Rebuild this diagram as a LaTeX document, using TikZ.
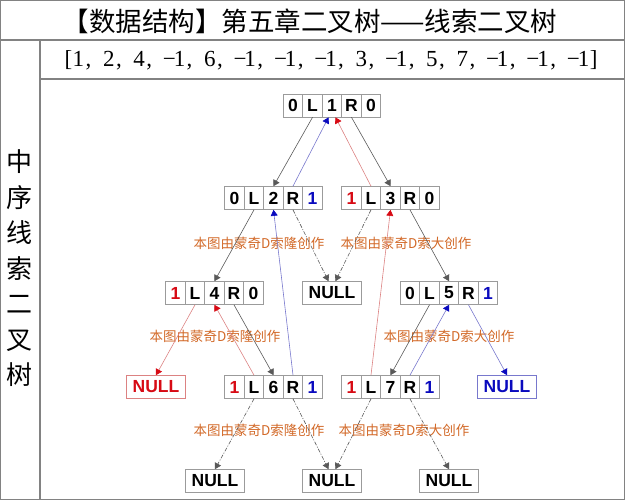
\documentclass[tikz,border=0pt]{standalone}
\usepackage{fontspec}
\setmainfont{Liberation Serif}
\setsansfont{Liberation Sans}
\newfontfamily\cjk{Noto Sans CJK SC}
\usetikzlibrary{arrows.meta}
\definecolor{tred}{RGB}{215,10,20}
\definecolor{tblue}{RGB}{10,10,190}
\definecolor{lred}{RGB}{220,130,130}
\definecolor{lblue}{RGB}{120,120,205}
\definecolor{wm}{RGB}{210,105,40}
\definecolor{frame}{RGB}{130,130,130}
\tikzset{
  cell/.style={draw=frame!80, line width=0.7pt, minimum width=19.5pt, minimum height=23pt, inner sep=0pt,
    font=\sffamily\bfseries\fontsize{17.5}{17.5}\selectfont},
  nullbox/.style={draw=frame!80, line width=0.7pt, minimum width=59pt, minimum height=23pt, inner sep=0pt,
    font=\sffamily\bfseries\fontsize{17.5}{17.5}\selectfont},
  child/.style={draw=black!65, line width=0.6pt, -{Triangle[length=6pt,width=7pt]}},
  nullptr/.style={child, dash pattern=on 4pt off 1.5pt on 1pt off 1.5pt},
  rthread/.style={draw=lred, line width=0.6pt, -{Triangle[length=6pt,width=7pt,color=tred]}},
  bthread/.style={draw=lblue, line width=0.6pt, -{Triangle[length=6pt,width=7pt,color=tblue]}},
  wmark/.style={text=wm, font=\cjk\fontsize{13.5}{13.5}\selectfont, inner sep=0pt},
}
\newcommand\tbox[8]{%
  \node[cell,text=#5] (#1lt) at (#2-39,#3) {#4};
  \node[cell] (#1l) at (#2-19.5,#3) {L};
  \node[cell] (#1v) at (#2,#3) {#6};
  \node[cell] (#1r) at (#2+19.5,#3) {R};
  \node[cell,text=#8] (#1rt) at (#2+39,#3) {#7};
}
\newcommand\mb[1]{\makebox[10.1pt]{#1}}
\begin{document}
\begin{tikzpicture}[x=1pt,y=-1pt]
\useasboundingbox (0,0) rectangle (625,500);
% frame
\draw[frame, line width=1.2pt] (0.6,0.6) rectangle (624.4,499.4);
\draw[frame, line width=1.2pt] (0,40) -- (625,40);
\draw[frame, line width=1.2pt] (40,40) -- (40,500);
\draw[frame, line width=1.2pt] (40,79) -- (625,79);
% title
\node[inner sep=0pt, font=\cjk\fontsize{26.5}{26.5}\selectfont] (title) at (310,21) {【数据结构】第五章二叉树——线索二叉树};
\node[inner sep=0pt, font=\fontsize{23}{23}\selectfont] (arr) at (331,60)
  {\mb{[}\mb{1}\mb{,}\mb{}\mb{2}\mb{,}\mb{}\mb{4}\mb{,}\mb{}\mb{−}\mb{1}\mb{,}\mb{}\mb{6}\mb{,}\mb{}\mb{−}\mb{1}\mb{,}\mb{}\mb{−}\mb{1}\mb{,}\mb{}\mb{−}\mb{1}\mb{,}\mb{}\mb{3}\mb{,}\mb{}\mb{−}\mb{1}\mb{,}\mb{}\mb{5}\mb{,}\mb{}\mb{7}\mb{,}\mb{}\mb{−}\mb{1}\mb{,}\mb{}\mb{−}\mb{1}\mb{,}\mb{}\mb{−}\mb{1}\mb{]}};
\node[inner sep=0pt, align=center, font=\cjk\fontsize{26}{35.5}\selectfont] (side) at (19,268.5)
  {中\\序\\线\\索\\二\\叉\\树};
% tree nodes
\tbox{a}{332}{105.5}{0}{black}{1}{0}{black}
\tbox{b}{273.5}{198}{0}{black}{2}{1}{tblue}
\tbox{c}{390.5}{198}{1}{tred}{3}{0}{black}
\tbox{d}{214.5}{293}{1}{tred}{4}{0}{black}
\node[nullbox] (nm) at (332,293) {NULL};
\tbox{e}{449}{293}{0}{black}{5}{1}{tblue}
\node[nullbox, draw=lred, text=tred] (nr) at (156,387) {NULL};
\tbox{f}{273.5}{387}{1}{tred}{6}{1}{tblue}
\tbox{g}{390.5}{387}{1}{tred}{7}{1}{tblue}
\node[nullbox, draw=lblue, text=tblue] (nbl) at (507,387) {NULL};
\node[nullbox] (n1) at (215,481) {NULL};
\node[nullbox] (n2) at (332,481) {NULL};
\node[nullbox] (n3) at (449,481) {NULL};
% watermarks
\node[wmark] (w1) at (259,243) {本图由蒙奇D索隆创作};
\node[wmark] (w2) at (406,243) {本图由蒙奇D索大创作};
\node[wmark] (w3) at (215,336) {本图由蒙奇D索隆创作};
\node[wmark] (w4) at (449,336) {本图由蒙奇D索大创作};
\node[wmark] (w5) at (259,430) {本图由蒙奇D索隆创作};
\node[wmark] (w6) at (404,430) {本图由蒙奇D索大创作};
% child pointers
\draw[child] (al.south) -- (bv.north);
\draw[child] (ar.south) -- (cv.north);
\draw[child] (bl.south) -- (dv.north);
\draw[child] (cr.south) -- (ev.north);
\draw[child] (dr.south) -- (fv.north);
\draw[child] (el.south) -- (gv.north);
\draw[nullptr] (br.south) -- ([xshift=-3.5pt]nm.north);
\draw[nullptr] (cl.south) -- ([xshift=3.5pt]nm.north);
\draw[nullptr] (fl.south) -- (n1.north);
\draw[nullptr] (fr.south) -- ([xshift=-3.5pt]n2.north);
\draw[nullptr] (gl.south) -- ([xshift=3.5pt]n2.north);
\draw[nullptr] (gr.south) -- (n3.north);
\draw[rthread] (dl.south) -- (nr.north);
\draw[bthread] (er.south) -- (nbl.north);
% threads
\draw[bthread] (br.north) -- ([xshift=-3.5pt]av.south);
\draw[rthread] (cl.north) -- ([xshift=3.5pt]av.south);
\draw[rthread] (fl.north) -- (dv.south);
\draw[bthread] (fr.north) -- (bv.south);
\draw[rthread] (gl.north) -- (cv.south);
\draw[bthread] (gr.north) -- (ev.south);
\end{tikzpicture}
\end{document}
